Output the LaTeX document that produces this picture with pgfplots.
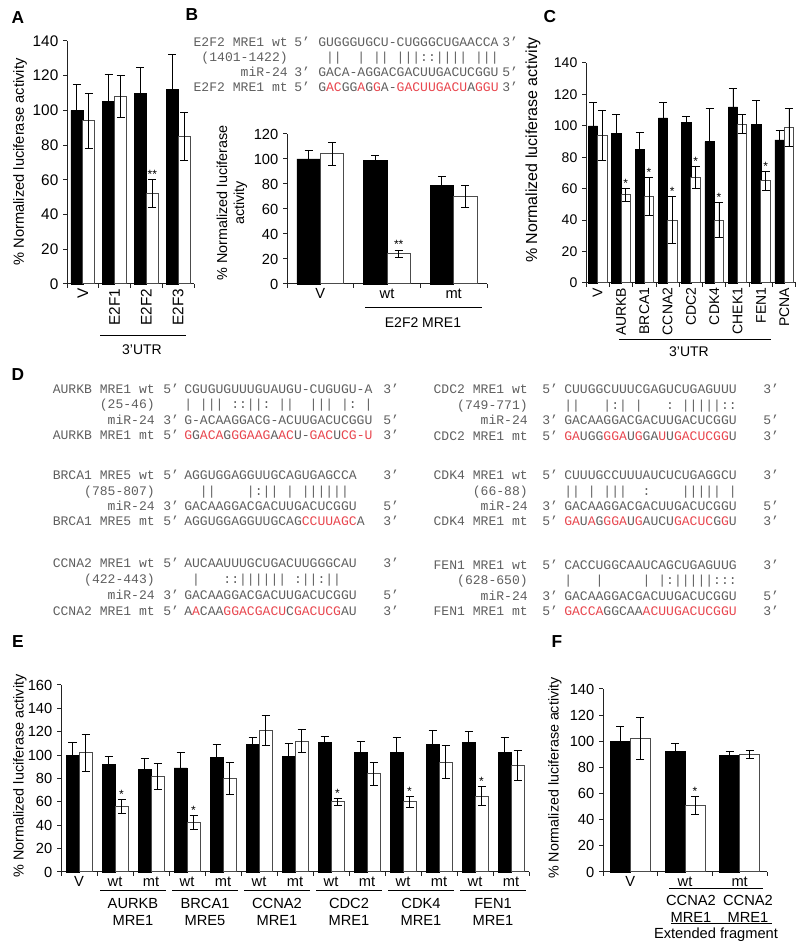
\documentclass[border=0pt]{standalone}
\usepackage{pgfplots}
\pgfplotsset{compat=1.18}
\usepackage{fontspec}
\setmainfont{Liberation Sans}
\newfontfamily\seqfont{Liberation Mono}
\definecolor{seqgray}{RGB}{95,95,95}
\definecolor{seqred}{RGB}{232,70,78}
\definecolor{axgray}{RGB}{35,35,35}
\newcommand\R[1]{\textcolor{seqred}{#1}}
\newcommand\sq[9]{%
  \node[seq,anchor=base east] at (#1,950-#5) {#6};%
  \node[seq,anchor=base west] at (#2,950-#5) {#7};%
  \node[seq,anchor=base west] at (#3,950-#5) {#8};%
  \node[seq,anchor=base west] at (#4,950-#5) {#9};}
\newcommand\fs[1]{\fontsize{#1}{#1}\selectfont}
\pgfplotsset{
  luc/.style={
    scale only axis, anchor=south west, clip=false,
    axis lines*=left,
    axis line style={axgray,line width=0.75pt},
    tick style={axgray,line width=0.75pt},
    tick align=outside, major tick length=3pt,
    ymin=0, ybar=0pt,
    /pgf/number format/assume math mode=true,
    tick label style={font=\fs{10.5}},
    xticklabels={},
    extra x tick style={major tick length=0pt},
  },
  blk/.style={fill=black,draw=black,line width=0.5pt,
    error bars/.cd, y dir=plus, y explicit,
    error bar style={black,line width=0.7pt},
    error mark options={rotate=90,black,line width=0.7pt,mark size=3pt}},
  wht/.style={fill=white,draw=black!70,line width=0.75pt,
    error bars/.cd, y dir=both, y explicit,
    error bar style={black,line width=0.7pt},
    error mark options={rotate=90,black,line width=0.7pt,mark size=3pt}},
}
\begin{document}
\begin{tikzpicture}[x=0.75pt,y=0.75pt,
  seq/.style={font=\seqfont\fs{9.8}, text=seqgray, inner sep=0pt},
  lab/.style={font=\bfseries\fs{13}, inner sep=0pt},
  ast/.style={font=\fs{9}, inner sep=0.5pt, anchor=south}]
\path[use as bounding box] (0,0) rectangle (800,950);

% ---------------- Panel A ----------------
\begin{axis}[luc, at={(50.25pt,499.5pt)}, width=95.25pt, height=182.25pt,
  ymax=140, ytick={0,20,...,140}, xmin=-0.5, xmax=3.5, bar width=9pt,
  tick label style={font=\fs{11.5}},
  xtick={-0.5,0.5,1.5,2.5,3.5},
  extra x ticks={0,1,2,3}, extra x tick labels={V,E2F1,E2F2,E2F3},
  extra x tick style={major tick length=0pt, xticklabel style={rotate=90,anchor=east}}]
\addplot[blk] coordinates {(0,100) +- (0,15) (1,105) +- (0,16) (2,110) +- (0,15) (3,112) +- (0,20)};
\addplot[wht] coordinates {(0,94) +- (0,16) (1,108) +- (0,12) (2,52) +- (0,8) (3,85) +- (0,14)};
\node[ast, xshift=4.5pt] at (axis cs:2,60) {**};
\end{axis}
\node[lab] at (18,950-18) {A};
\node[rotate=90, font=\fs{11}] at (20,950-162) {\% Normalized luciferase activity};
\draw[line width=0.75pt] (100,950-336) -- (186,950-336);
\node[font=\fs{10.5}] at (142,950-350) {3'UTR};

% ---------------- Panel B ----------------
\node[lab] at (192,950-15) {B};
\sq{288}{294}{318}{502}{47}{E2F2 MRE1 wt}{5’}{GUGGGUGCU-CUGGGCUGAACCA}{3’}
\sq{288}{294}{318}{502}{62}{(1401-1422)}{}{~||~~|~||~|||::||||~|||}{}
\sq{288}{294}{318}{502}{77}{miR-24}{3’}{GACA-AGGACGACUUGACUCGGU}{5’}
\sq{288}{294}{318}{502}{92}{E2F2 MRE1 mt}{5’}{G\R{AC}GG\R{A}G\R{G}A-\R{GACUUGACU}A\R{GGU}}{3’}

\begin{axis}[luc, at={(215.25pt,499.5pt)}, width=150pt, height=112.5pt,
  ymax=120, ytick={0,20,...,120}, xmin=-0.5, xmax=2.5, bar width=17.6pt,
  tick label style={font=\fs{11}},
  xtick={-0.5,0.5,1.5,2.5},
  extra x ticks={0,1,2}, extra x tick labels={V,wt,mt}]
\addplot[blk] coordinates {(0,100) +- (0,7) (1,99) +- (0,4) (2,79) +- (0,7)};
\addplot[wht] coordinates {(0,104) +- (0,9) (1,24) +- (0,3) (2,70) +- (0,9)};
\node[ast, xshift=8.8pt] at (axis cs:1,27.5) {**};
\end{axis}
\node[rotate=90, align=center, font=\fontsize{10.8}{12.75}\selectfont] at (232,950-203) {\% Normalized luciferase\\activity};
\draw[line width=0.75pt] (365,950-308) -- (482,950-308);
\node[font=\fs{10.5}] at (423,950-323) {E2F2 MRE1};

% ---------------- Panel C ----------------
\node[lab] at (550,950-17) {C};
\begin{axis}[luc, at={(439.5pt,500.25pt)}, width=157.5pt, height=165pt,
  ymax=140, ytick={0,20,...,140}, xmin=-0.5, xmax=8.5, bar width=7pt,
  xtick={-0.5,0.5,...,8.5},
  tick label style={font=\fs{10.5}},
  extra x ticks={0,...,8}, extra x tick labels={V,AURKB,BRCA1,CCNA2,CDC2,CDK4,CHEK1,FEN1,PCNA},
  extra x tick style={major tick length=0pt, xticklabel style={rotate=90,anchor=east}}]
\addplot[blk] coordinates {(0,100) +- (0,15) (1,95) +- (0,12) (2,85) +- (0,11) (3,105) +- (0,10)
  (4,102) +- (0,4) (5,90) +- (0,21) (6,112) +- (0,12) (7,101) +- (0,15) (8,91) +- (0,6)};
\addplot[wht] coordinates {(0,94) +- (0,16) (1,56) +- (0,4) (2,55) +- (0,12) (3,40) +- (0,15)
  (4,67) +- (0,7) (5,40) +- (0,11) (6,101) +- (0,6) (7,65) +- (0,6) (8,99) +- (0,12)};
\node[ast, xshift=3.5pt] at (axis cs:1,60) {*};
\node[ast, xshift=3.5pt] at (axis cs:2,67) {*};
\node[ast, xshift=3.5pt] at (axis cs:3,55) {*};
\node[ast, xshift=3.5pt] at (axis cs:4,74) {*};
\node[ast, xshift=3.5pt] at (axis cs:5,51) {*};
\node[ast, xshift=3.5pt] at (axis cs:7,71) {*};
\end{axis}
\node[rotate=90, font=\fs{12}] at (533,950-150) {\% Normalized luciferase activity};
\draw[line width=0.75pt] (619,950-340) -- (771,950-340);
\node[font=\fs{10.5}] at (689,950-352) {3'UTR};

% ---------------- Panel D ----------------
\node[lab] at (18,950-375) {D};
% left column
\sq{155}{163}{184}{383}{394}{AURKB MRE1 wt}{5’}{CGUGUGUUUGUAUGU-CUGUGU-A}{3’}
\sq{155}{163}{184}{383}{409}{(25-46)}{}{|~|||~::||:~||~~|||~|:~|}{}
\sq{155}{163}{184}{383}{425}{miR-24}{3’}{G-ACAAGGACG-ACUUGACUCGGU}{5’}
\sq{155}{163}{184}{383}{440}{AURKB MRE1 mt}{5’}{\R{G}G\R{ACA}G\R{GGAAG}A\R{AC}U-\R{GAC}U\R{CG-U}}{3’}
\sq{155}{163}{184}{383}{480}{BRCA1 MRE5 wt}{5’}{AGGUGGAGGUUGCAGUGAGCCA}{3’}
\sq{155}{163}{184}{383}{496}{(785-807)}{}{~~||~~~~|:||~|~||||||}{}
\sq{155}{163}{184}{383}{511}{miR-24}{3’}{GACAAGGACGACUUGACUCGGU}{5’}
\sq{155}{163}{184}{383}{526}{BRCA1 MRE5 mt}{5’}{AGGUGGAGGUUGCAG\R{CCUUAGC}A}{3’}
\sq{155}{163}{184}{383}{568}{CCNA2 MRE1 wt}{5’}{AUCAAUUUGCUGACUUGGGCAU}{3’}
\sq{155}{163}{184}{383}{584}{(422-443)}{}{~|~~~::||||||~:||:||}{}
\sq{155}{163}{184}{383}{600}{miR-24}{3’}{GACAAGGACGACUUGACUCGGU}{5’}
\sq{155}{163}{184}{383}{616}{CCNA2 MRE1 mt}{5’}{A\R{A}CAA\R{GGACGACU}C\R{GACUCG}AU}{3’}
% right column
\sq{528}{542}{564}{763}{394}{CDC2 MRE1 wt}{5’}{CUUGGCUUUCGAGUCUGAGUUU}{3’}
\sq{528}{542}{564}{763}{410}{(749-771)}{}{||~~~|:|~|~~~:~|||||::}{}
\sq{528}{542}{564}{763}{425}{miR-24}{3’}{GACAAGGACGACUUGACUCGGU}{5’}
\sq{528}{542}{564}{763}{441}{CDC2 MRE1 mt}{5’}{\R{GA}UGG\R{GGA}U\R{G}GA\R{U}U\R{GACUCGG}U}{3’}
\sq{528}{542}{564}{763}{480}{CDK4 MRE1 wt}{5’}{CUUUGCCUUUAUCUCUGAGGCU}{3’}
\sq{528}{542}{564}{763}{496}{(66-88)}{}{||~|~|||~~:~~~~|||||~|}{}
\sq{528}{542}{564}{763}{511}{miR-24}{3’}{GACAAGGACGACUUGACUCGGU}{5’}
\sq{528}{542}{564}{763}{526}{CDK4 MRE1 mt}{5’}{\R{GA}U\R{A}G\R{GGA}U\R{G}AUCU\R{GACUC}G\R{G}U}{3’}
\sq{528}{542}{564}{763}{570}{FEN1 MRE1 wt}{5’}{CACCUGGCAAUCAGCUGAGUUG}{3’}
\sq{528}{542}{564}{763}{585}{(628-650)}{}{|~~~|~~~~~|~|:|||||:::}{}
\sq{528}{542}{564}{763}{601}{miR-24}{3’}{GACAAGGACGACUUGACUCGGU}{5’}
\sq{528}{542}{564}{763}{616}{FEN1 MRE1 mt}{5’}{\R{GACCA}GGCAA\R{ACUUGACUCGGU}}{3’}

% ---------------- Panel E ----------------
\node[lab] at (18,950-642) {E};
\begin{axis}[luc, at={(45.75pt,58.5pt)}, width=351pt, height=140.25pt,
  ymax=160, ytick={0,20,...,160}, xmin=-0.5, xmax=12.5, bar width=9.75pt,
  xtick={-0.5,0.5,...,12.5},
  tick label style={font=\fs{11}},
  extra x ticks={0,...,12}, extra x tick labels={V,wt,mt,wt,mt,wt,mt,wt,mt,wt,mt,wt,mt}]
\addplot[blk] coordinates {(0,100) +- (0,11) (1,92) +- (0,7) (2,88) +- (0,9) (3,89) +- (0,13)
  (4,98) +- (0,11) (5,109) +- (0,6) (6,99) +- (0,11) (7,111) +- (0,5) (8,102) +- (0,10)
  (9,102) +- (0,13) (10,109) +- (0,12) (11,111) +- (0,9) (12,102) +- (0,13)};
\addplot[wht] coordinates {(0,102) +- (0,16) (1,56) +- (0,6) (2,82) +- (0,11) (3,42) +- (0,6)
  (4,80) +- (0,14) (5,121) +- (0,13) (6,112) +- (0,10) (7,60) +- (0,3) (8,84) +- (0,10)
  (9,60) +- (0,5) (10,94) +- (0,14) (11,65) +- (0,8) (12,91) +- (0,13)};
\node[ast, xshift=4.875pt] at (axis cs:1,62) {*};
\node[ast, xshift=4.875pt] at (axis cs:3,48) {*};
\node[ast, xshift=4.875pt] at (axis cs:7,63) {*};
\node[ast, xshift=4.875pt] at (axis cs:9,65) {*};
\node[ast, xshift=4.875pt] at (axis cs:11,73) {*};
\end{axis}
\node[rotate=90, font=\fs{10.8}] at (20,950-776) {\% Normalized luciferase activity};
\foreach \a/\b/\c/\g/\m in {100/166/133/AURKB/MRE1, 172/238/205/BRCA1/MRE5, 244/310/277/CCNA2/MRE1,
   316/382/349/CDC2/MRE1, 388/454/421/CDK4/MRE1, 460/526/493/FEN1/MRE1}{
  \draw[line width=0.75pt] (\a,950-891) -- (\b,950-891);
  \node[align=center, font=\fontsize{11}{12.75}\selectfont] at (\c,950-911.5) {\g\\\m};
}

% ---------------- Panel F ----------------
\node[lab] at (557,950-642) {F};
\begin{axis}[luc, at={(452.25pt,58.5pt)}, width=123pt, height=137.25pt,
  ymax=140, ytick={0,20,...,140}, xmin=-0.5, xmax=2.5, bar width=15pt,
  xtick={-0.5,0.5,1.5,2.5},
  tick label style={font=\fs{11}},
  extra x ticks={0,1,2}, extra x tick labels={V,wt,mt}]
\addplot[blk] coordinates {(0,100) +- (0,11) (1,92) +- (0,6) (2,89) +- (0,3)};
\addplot[wht] coordinates {(0,102) +- (0,16) (1,51) +- (0,7) (2,90) +- (0,3)};
\node[ast, xshift=7.5pt] at (axis cs:1,58) {*};
\end{axis}
\node[rotate=90, font=\fs{10.7}] at (555,950-778) {\% Normalized luciferase activity};
\draw[line width=0.75pt] (669,950-889) -- (763,950-889);
\node[align=center, font=\fontsize{11}{12.75}\selectfont] at (691,950-908.5) {CCNA2\\MRE1};
\node[align=center, font=\fontsize{11}{12.75}\selectfont] at (748,950-908.5) {CCNA2\\MRE1};
\draw[line width=0.75pt] (671,950-924) -- (772,950-924);
\node[font=\fs{11}] at (716,950-935) {Extended fragment};
\end{tikzpicture}
\end{document}
